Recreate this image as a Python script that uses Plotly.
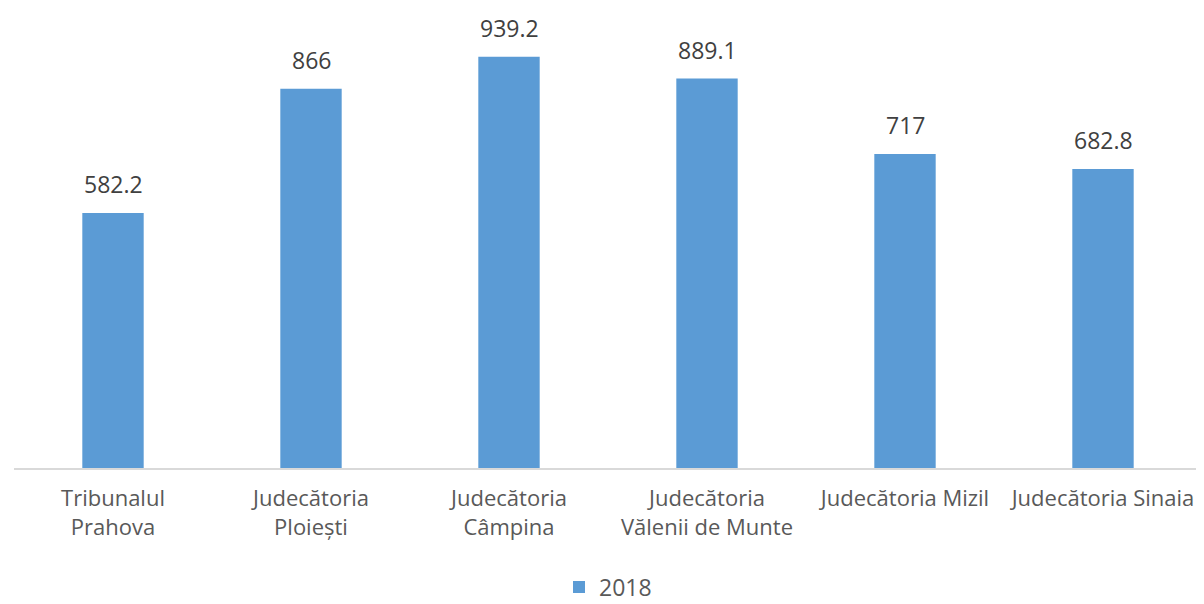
import plotly.graph_objects as go

categories = ["Tribunalul<br>Prahova", "Judecătoria<br>Ploiești", "Judecătoria<br>Câmpina",
              "Judecătoria<br>Vălenii de Munte", "Judecătoria Mizil", "Judecătoria Sinaia"]
values_2018 = [582.2, 866, 939.2, 889.1, 717, 682.8]
value_labels = ["582.2", "866", "939.2", "889.1", "717", "682.8"]
series_name = "2018"

FONT = "Open Sans, Noto Sans, sans-serif"

fig = go.Figure()
fig.add_trace(go.Bar(
    x=categories, y=values_2018, name=series_name,
    marker=dict(color="#5b9bd5", line=dict(width=0)),
    showlegend=True,
))

for c, v, t in zip(categories, values_2018, value_labels):
    fig.add_annotation(x=c, y=v, text=t, showarrow=False, yanchor="bottom",
                       yshift=11, font=dict(family=FONT, size=23, color="#404040"))

# page body has an 8px default margin, so the figure is sized/offset accordingly
fig.update_layout(
    width=1196, height=596,
    margin=dict(l=6, r=2, t=22, b=136, autoexpand=False),
    paper_bgcolor="white", plot_bgcolor="white",
    bargap=0.69,
    font=dict(family=FONT, size=22, color="#595959"),
    xaxis=dict(showline=True, linecolor="#d9d9d9", linewidth=1.5, showgrid=False,
               ticks="", tickfont=dict(family=FONT, size=22, color="#595959"),
               ticklabelstandoff=10, automargin=False),
    yaxis=dict(range=[0, 1000], visible=False, showgrid=False, zeroline=False,
               automargin=False),
    legend=dict(orientation="h", x=0.5, xanchor="center", y=-0.272, yanchor="middle",
                font=dict(family=FONT, size=23, color="#595959"),
                itemwidth=30),
)

fig.write_html("out.html")
